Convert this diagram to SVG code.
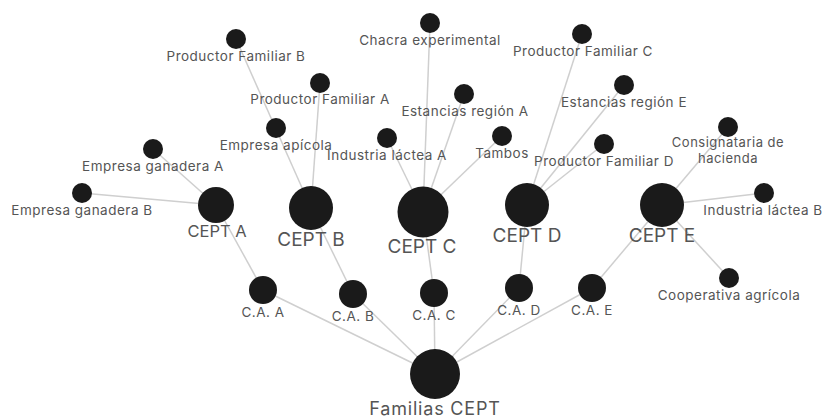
<svg xmlns="http://www.w3.org/2000/svg" width="825" height="418" viewBox="0 0 825 418">
<style>
.e{stroke:#cfcfcf;stroke-width:1.5;fill:none}
.n{fill:#1a1a1a}
.t{font-family:Inter,"Open Sans",sans-serif;fill:#555;text-anchor:middle;font-size:13.5px;letter-spacing:0.5px}
.s{font-size:13px}
.m{font-size:19px;letter-spacing:0}
.l{font-size:19px;letter-spacing:0}
</style>
<rect width="825" height="418" fill="#fff"/>
<g id="edges">
<line class="e" x1="435" y1="374" x2="263" y2="290"/>
<line class="e" x1="435" y1="374" x2="353" y2="294"/>
<line class="e" x1="435" y1="374" x2="434" y2="293"/>
<line class="e" x1="435" y1="374" x2="519" y2="288"/>
<line class="e" x1="435" y1="374" x2="592" y2="288"/>
<line class="e" x1="263" y1="290" x2="216" y2="205"/>
<line class="e" x1="353" y1="294" x2="311" y2="208"/>
<line class="e" x1="434" y1="293" x2="423" y2="212"/>
<line class="e" x1="519" y1="288" x2="527" y2="205"/>
<line class="e" x1="592" y1="288" x2="662" y2="205"/>
<line class="e" x1="216" y1="205" x2="153" y2="149"/>
<line class="e" x1="216" y1="205" x2="82" y2="193"/>
<line class="e" x1="311" y1="208" x2="236" y2="39"/>
<line class="e" x1="311" y1="208" x2="320" y2="83"/>
<line class="e" x1="423" y1="212" x2="430" y2="23"/>
<line class="e" x1="423" y1="212" x2="464" y2="94"/>
<line class="e" x1="423" y1="212" x2="387" y2="138"/>
<line class="e" x1="423" y1="212" x2="502" y2="136"/>
<line class="e" x1="527" y1="205" x2="582" y2="34"/>
<line class="e" x1="527" y1="205" x2="624" y2="85"/>
<line class="e" x1="527" y1="205" x2="604" y2="144"/>
<line class="e" x1="662" y1="205" x2="728" y2="127"/>
<line class="e" x1="662" y1="205" x2="764" y2="193"/>
<line class="e" x1="662" y1="205" x2="729" y2="278"/>
</g>
<g id="familias"><circle class="n" cx="435" cy="374" r="25"/><text class="t" x="435" y="415" style="font-size:18px;letter-spacing:0.8px">Familias CEPT</text></g>
<g id="ca-a"><circle class="n" cx="263" cy="290" r="14"/><text class="t" x="263" y="317">C.A. A</text></g>
<g id="ca-b"><circle class="n" cx="353" cy="294" r="14"/><text class="t" x="353" y="321">C.A. B</text></g>
<g id="ca-c"><circle class="n" cx="434" cy="293" r="14"/><text class="t" x="434" y="320">C.A. C</text></g>
<g id="ca-d"><circle class="n" cx="519" cy="288" r="14"/><text class="t" x="519" y="315">C.A. D</text></g>
<g id="ca-e"><circle class="n" cx="592" cy="288" r="14"/><text class="t" x="592" y="315">C.A. E</text></g>
<g id="cept-a"><circle class="n" cx="216" cy="205" r="18"/><text class="t" x="217" y="237" style="font-size:16.5px;letter-spacing:0">CEPT A</text></g>
<g id="cept-b"><circle class="n" cx="311" cy="208" r="22"/><text class="t m" x="311" y="246">CEPT B</text></g>
<g id="cept-c"><circle class="n" cx="423" cy="212" r="25.5"/><text class="t l" x="422" y="253">CEPT C</text></g>
<g id="cept-d"><circle class="n" cx="527" cy="205" r="22"/><text class="t m" x="527" y="242">CEPT D</text></g>
<g id="cept-e"><circle class="n" cx="662" cy="205" r="22"/><text class="t m" x="662" y="242">CEPT E</text></g>
<g id="emp-gan-a"><circle class="n" cx="153" cy="149" r="10"/><text class="t" x="153" y="171">Empresa ganadera A</text></g>
<g id="emp-gan-b"><circle class="n" cx="82" cy="193" r="10"/><text class="t" x="82" y="215">Empresa ganadera B</text></g>
<g id="prod-fam-b"><circle class="n" cx="236" cy="39" r="10"/><text class="t" x="236" y="61">Productor Familiar B</text></g>
<g id="prod-fam-a"><circle class="n" cx="320" cy="83" r="10"/><text class="t" x="320" y="104">Productor Familiar A</text></g>
<g id="emp-apicola"><circle class="n" cx="276" cy="128" r="10"/><text class="t" x="276" y="150">Empresa apícola</text></g>
<g id="chacra"><circle class="n" cx="430" cy="23" r="10"/><text class="t" x="430" y="45">Chacra experimental</text></g>
<g id="est-a"><circle class="n" cx="464" cy="94" r="10"/><text class="t" x="465" y="116">Estancias región A</text></g>
<g id="ind-lac-a"><circle class="n" cx="387" cy="138" r="10"/><text class="t" x="387" y="160">Industria láctea A</text></g>
<g id="tambos"><circle class="n" cx="502" cy="136" r="10"/><text class="t" x="502" y="158">Tambos</text></g>
<g id="prod-fam-c"><circle class="n" cx="582" cy="34" r="10"/><text class="t" x="583" y="56">Productor Familiar C</text></g>
<g id="est-e"><circle class="n" cx="624" cy="85" r="10"/><text class="t" x="624" y="107">Estancias región E</text></g>
<g id="prod-fam-d"><circle class="n" cx="604" cy="144" r="10"/><text class="t" x="604" y="166">Productor Familiar D</text></g>
<g id="consig"><circle class="n" cx="728" cy="127" r="10"/><text class="t s" x="728" y="147">Consignataria de</text><text class="t s" x="728" y="163">hacienda</text></g>
<g id="ind-lac-b"><circle class="n" cx="764" cy="193" r="10"/><text class="t" x="763" y="215">Industria láctea B</text></g>
<g id="coop"><circle class="n" cx="729" cy="278" r="10"/><text class="t" x="729" y="300">Cooperativa agrícola</text></g>
</svg>
